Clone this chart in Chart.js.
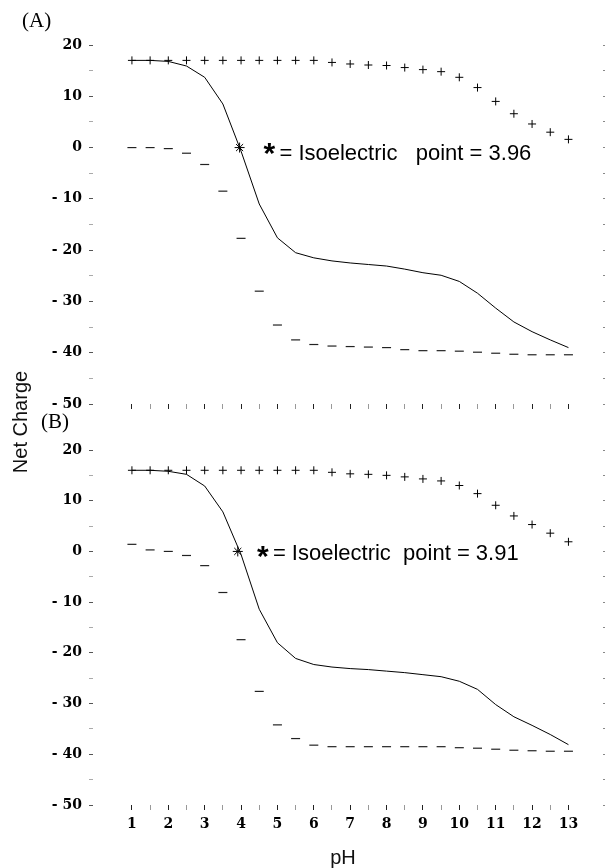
<!DOCTYPE html>
<html>
<head>
<meta charset="utf-8">
<title>Net charge vs pH</title>
<script src="https://cdn.jsdelivr.net/npm/chart.js@4.4.1/dist/chart.umd.min.js"></script>
<style>
  body { margin: 0; background: #fff; }
  #page { position: relative; width: 609px; height: 868px; overflow: hidden; background: #fff; }
  canvas { position: absolute; left: 0; }
  .lbl { position: absolute; color: #000; white-space: nowrap; line-height: 1; }
  .panel { font-family: "Liberation Serif", serif; font-size: 21px; }
  .title { font-family: "Liberation Sans", sans-serif; font-size: 20px; color: #111; }
  #ytitle { left: 20px; top: 422px; transform: translate(-50%, -50%) rotate(-90deg); }
  #xtitle { left: 343px; top: 857px; transform: translate(-50%, -50%); }
</style>
</head>
<body>
<div id="page">
  <canvas id="chartA" width="609" height="420" style="top:0"></canvas>
  <canvas id="chartB" width="609" height="448" style="top:420px"></canvas>
  <div class="lbl panel" style="left:22px; top:10px">(A)</div>
  <div class="lbl panel" style="left:41px; top:411px">(B)</div>
  <div class="lbl title" id="ytitle">Net Charge</div>
  <div class="lbl title" id="xtitle">pH</div>
</div>
<script>
// pH values used in both panels
const phValues = [1, 1.5, 2, 2.5, 3, 3.5, 4, 4.5, 5, 5.5, 6, 6.5, 7, 7.5, 8, 8.5, 9, 9.5, 10, 10.5, 11, 11.5, 12, 12.5, 13];
const yTickValues = [20, 15, 10, 5, 0, -5, -10, -15, -20, -25, -30, -35, -40, -45, -50];

// Panel (A)
const positiveA = [17, 17, 17, 17, 17, 17, 17, 17, 17, 17, 17, 16.6, 16.3, 16.1, 16.0, 15.6, 15.2, 14.8, 13.7, 11.7, 9.0, 6.6, 4.6, 3.0, 1.6];
const negativeA = [0, 0, -0.2, -1.1, -3.3, -8.5, -17.7, -28.0, -34.6, -37.5, -38.4, -38.7, -38.8, -38.9, -39.0, -39.4, -39.6, -39.6, -39.7, -39.9, -40.1, -40.3, -40.4, -40.4, -40.4];
const netA = [17, 17, 16.8, 15.9, 13.7, 8.5, -0.7, -11.0, -17.6, -20.5, -21.5, -22.1, -22.5, -22.8, -23.1, -23.7, -24.4, -24.9, -26.1, -28.4, -31.3, -34.0, -35.9, -37.5, -39.0];
const isoA = 3.96;

// Panel (B)
const positiveB = [16, 16, 16, 16, 16, 16, 16, 16, 16, 16, 16, 15.6, 15.3, 15.2, 15.0, 14.7, 14.3, 13.9, 13.0, 11.4, 9.1, 7.0, 5.3, 3.6, 1.9];
const negativeB = [1.4, 0.3, 0, -0.8, -2.8, -8.1, -17.4, -27.6, -34.2, -36.9, -38.2, -38.5, -38.5, -38.5, -38.5, -38.5, -38.5, -38.5, -38.7, -38.8, -39.0, -39.2, -39.3, -39.4, -39.4];
const netB = [16, 16, 15.8, 15.2, 12.9, 7.8, -0.6, -11.4, -18.0, -21.1, -22.3, -22.8, -23.1, -23.3, -23.6, -23.9, -24.3, -24.7, -25.6, -27.2, -30.2, -32.6, -34.3, -36.1, -38.1];
const isoB = 3.91;

const tickFont = { family: "DejaVu Serif", size: 14, weight: "bold" };

function toPoints(ys) {
  return phValues.map((ph, i) => ({ x: ph, y: ys[i] }));
}

// "* = Isoelectric point = x.xx" written next to the curve
const notePlugin = {
  id: "note",
  afterDatasetsDraw(chart, args, opts) {
    const { ctx, scales } = chart;
    const px = scales.x.getPixelForValue(opts.starAt);
    const py = scales.y.getPixelForValue(0);
    ctx.save();
    ctx.fillStyle = "#000";
    ctx.textAlign = "center";
    ctx.textBaseline = "alphabetic";
    ctx.font = 'bold 30px "Liberation Sans"';
    ctx.fillText("*", px, py + opts.starDy);
    ctx.textAlign = "left";
    ctx.font = '22px "Liberation Sans"';
    ctx.fillText(opts.text, px + 10, py + opts.dy);
    ctx.restore();
  }
};

function buildPanel(id, pos, neg, net, iso, note, showLabels, padding, xHeight) {
  new Chart(document.getElementById(id), {
    type: "scatter",
    data: {
      datasets: [
        { data: toPoints(net), showLine: true, borderColor: "#000", backgroundColor: "#000", borderWidth: 1, pointRadius: 0 },
        { data: toPoints(pos), pointStyle: "cross", pointRadius: 4, borderColor: "#000", backgroundColor: "#000", pointBorderWidth: 1 },
        { data: toPoints(neg), pointStyle: "line", pointRadius: 4.5, borderColor: "#222", backgroundColor: "#222", pointBorderWidth: 1.2 },
        { data: [{ x: iso, y: 0 }], pointStyle: "star", pointRadius: 5, borderColor: "#000", backgroundColor: "#000", pointBorderWidth: 1 }
      ]
    },
    options: {
      responsive: false,
      animation: false,
      devicePixelRatio: 1,
      layout: { padding: padding },
      plugins: { legend: { display: false }, tooltip: { enabled: false }, note: note },
      scales: {
        x: {
          type: "linear",
          min: -0.07,
          max: 13.95,
          afterBuildTicks: (s) => { s.ticks = phValues.map((v) => ({ value: v })); },
          ticks: {
            display: showLabels,
            font: tickFont,
            color: "#000",
            padding: 6,
            maxRotation: 0,
            autoSkip: false,
            callback: (v) => (Number.isInteger(v) ? String(v) : "")
          },
          grid: {
            drawOnChartArea: false,
            tickLength: 5,
            tickColor: (c) => (c.tick && Number.isInteger(c.tick.value) ? "#222" : "#999")
          },
          border: { display: false },
          afterFit: (s) => { s.height = xHeight; }
        },
        y: {
          min: -50,
          max: 20,
          afterBuildTicks: (s) => { s.ticks = yTickValues.map((v) => ({ value: v })); },
          ticks: {
            font: tickFont,
            color: "#000",
            padding: 7,
            autoSkip: false,
            callback: (v) => (v % 10 !== 0 ? "" : v < 0 ? "- " + -v : String(v))
          },
          grid: {
            drawOnChartArea: false,
            tickLength: 4,
            tickColor: (c) => (c.tick && c.tick.value % 10 === 0 ? "#555" : "#aaa")
          },
          border: { display: false },
          afterFit: (s) => { s.width = 93; }
        },
        yr: {
          position: "right",
          min: -50,
          max: 20,
          afterBuildTicks: (s) => { s.ticks = yTickValues.map((v) => ({ value: v })); },
          ticks: { display: false },
          grid: { drawOnChartArea: false, tickLength: 2, tickColor: "#888" },
          border: { display: false },
          afterFit: (s) => { s.width = 2; }
        }
      }
    },
    plugins: [notePlugin]
  });
}

buildPanel("chartA", positiveA, negativeA, netA, isoA,
  { starAt: 4.78, starDy: 15, dy: 12, text: "= Isoelectric   point = " + isoA.toFixed(2) },
  false, { top: 45, bottom: 10, left: 0, right: 0 }, 6);

buildPanel("chartB", positiveB, negativeB, netB, isoB,
  { starAt: 4.6, starDy: 15, dy: 9, text: "= Isoelectric  point = " + isoB.toFixed(2) },
  true, { top: 30, bottom: 0, left: 0, right: 0 }, 63);
</script>
</body>
</html>
